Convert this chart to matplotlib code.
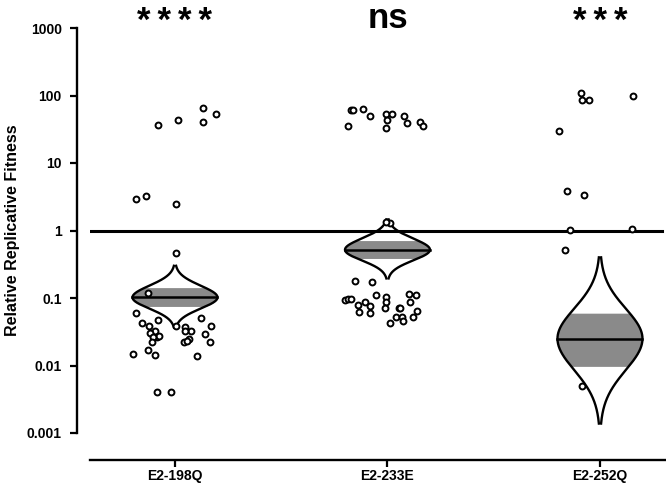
import numpy as np
import matplotlib.pyplot as plt

plt.rcParams['font.family'] = ['Liberation Sans', 'DejaVu Sans']
plt.rcParams['font.weight'] = 'bold'

groups = ['E2-198Q', 'E2-233E', 'E2-252Q']
stars = ['****', 'ns', '***']

# replicative fitness values and horizontal jitter (category units) per group
e198_vals = [37, 44, 66, 41, 54, 2.9, 3.3, 2.5, 0.46, 0.117, 0.059, 0.042, 0.039,
             0.048, 0.051, 0.039, 0.039, 0.037, 0.033, 0.032, 0.033, 0.030, 0.026,
             0.027, 0.026, 0.022, 0.029, 0.025, 0.022, 0.023, 0.022, 0.015, 0.017,
             0.0145, 0.0136, 0.004, 0.004]
e198_dx = [-0.08, 0.014, 0.132, 0.132, 0.193, -0.184, -0.136, 0.005, 0.005, -0.127,
           -0.184, -0.155, -0.122, -0.08, 0.122, 0.169, 0.005, 0.047, 0.075, 0.047,
           -0.094, -0.118, -0.085, -0.075, -0.104, -0.108, 0.141, 0.066, 0.042, 0.056,
           0.165, -0.198, -0.127, -0.094, 0.104, -0.085, -0.019]

e233_vals = [60, 60, 64, 49, 35, 54, 54, 44, 32.6, 50, 38.5, 41, 35, 1.27, 1.32,
             0.18, 0.175, 0.095, 0.098, 0.096, 0.080, 0.086, 0.063, 0.075, 0.059,
             0.11, 0.102, 0.086, 0.072, 0.072, 0.070, 0.053, 0.053, 0.045, 0.042,
             0.116, 0.11, 0.086, 0.065, 0.053]
e233_dx = [-0.174, -0.16, -0.113, -0.08, -0.188, -0.009, 0.019, 0.0, -0.005, 0.08,
           0.094, 0.151, 0.165, 0.014, -0.005, -0.151, -0.075, -0.202, -0.188, -0.174,
           -0.141, -0.108, -0.136, -0.08, -0.08, -0.052, -0.005, -0.005, -0.014, 0.056,
           0.061, 0.042, 0.066, 0.075, 0.014, 0.099, 0.132, 0.108, 0.141, 0.118]

e252_vals = [110, 87, 87, 100, 30, 3.8, 3.4, 1.03, 1.07, 0.52, 0.005]
e252_dx = [-0.089, -0.085, -0.052, 0.155, -0.193, -0.155, -0.075, -0.141, 0.151,
           -0.165, -0.085]

# estimation violins: median, shaded interval and outline extent
medians = [0.102, 0.518, 0.025]
ci_low = [0.075, 0.385, 0.0097]
ci_high = [0.143, 0.71, 0.0596]
tip_low = [0.0366, 0.195, 0.00138]
tip_high = [0.30, 1.46, 0.40]

fig = plt.figure(figsize=(6.66, 4.88), dpi=100)
ax = fig.add_axes([90 / 666, 55 / 488, 575 / 666, 405 / 488])
ax.set_yscale('log')
ax.set_ylim(0.001, 1000)
ax.set_xlim(-0.4, 2.306)

ax.axhline(1, xmin=0.0, xmax=0.995, color='black', lw=2.2, zorder=2)

half_w = 0.2
for i in range(3):
    m = np.log10(medians[i])
    up = np.log10(tip_high[i]) - m
    dn = m - np.log10(tip_low[i])
    t = np.linspace(-1, 1, 601)
    ylog = np.where(t >= 0, m + t * up, m + t * dn)
    w = half_w * np.exp(-0.5 * (t * 2.7) ** 2)
    yv = 10 ** ylog
    band = (yv >= ci_low[i]) & (yv <= ci_high[i])
    ax.fill_betweenx(yv, i - w, i + w, where=band, color='#8a8a8a', lw=0, zorder=3)
    ax.plot(i - w, yv, color='black', lw=1.7, zorder=4)
    ax.plot(i + w, yv, color='black', lw=1.7, zorder=4)
    ax.plot([i - half_w, i + half_w], [medians[i], medians[i]], color='black', lw=1.8, zorder=4)

for i, (vals, dx) in enumerate([(e198_vals, e198_dx), (e233_vals, e233_dx), (e252_vals, e252_dx)]):
    ax.scatter(i + np.array(dx), vals, s=18, facecolor='white', edgecolor='black',
               linewidth=1.4, zorder=5)

# significance marks above each group
for i, s in enumerate(stars):
    if s == 'ns':
        ax.text(i, 1.0, s, transform=ax.get_xaxis_transform(), ha='center', va='baseline',
                fontsize=25, fontweight='bold', clip_on=False)
    else:
        ax.text(i, 0.993, '\u2009'.join(s), transform=ax.get_xaxis_transform(),
                ha='center', va='baseline', fontsize=25, fontweight='bold', clip_on=False)

ax.set_xticks(range(3))
ax.set_xticklabels(groups, fontsize=12.5, fontweight='bold')
ax.set_yticks([0.001, 0.01, 0.1, 1, 10, 100, 1000])
ax.set_yticklabels(['0.001', '0.01', '0.1', '1', '10', '100', '1000'], fontsize=11.5, fontweight='bold')
ax.minorticks_off()
ax.tick_params(axis='both', length=5, width=1.6, direction='out')
ax.tick_params(axis='y', pad=6)
ax.tick_params(axis='x', pad=1.5)

for side in ['top', 'right']:
    ax.spines[side].set_visible(False)
ax.spines['left'].set_position(('outward', 9.4))
ax.spines['left'].set_bounds(0.001, 1000)
ax.spines['bottom'].set_position(('outward', 19.4))
ax.spines['left'].set_linewidth(1.7)
ax.spines['bottom'].set_linewidth(1.7)

ax.set_ylabel('Relative Replicative Fitness', fontsize=11.5, fontweight='bold')
ax.yaxis.set_label_coords(-0.122, 0.5)

fig.savefig('out.png', dpi=100)
